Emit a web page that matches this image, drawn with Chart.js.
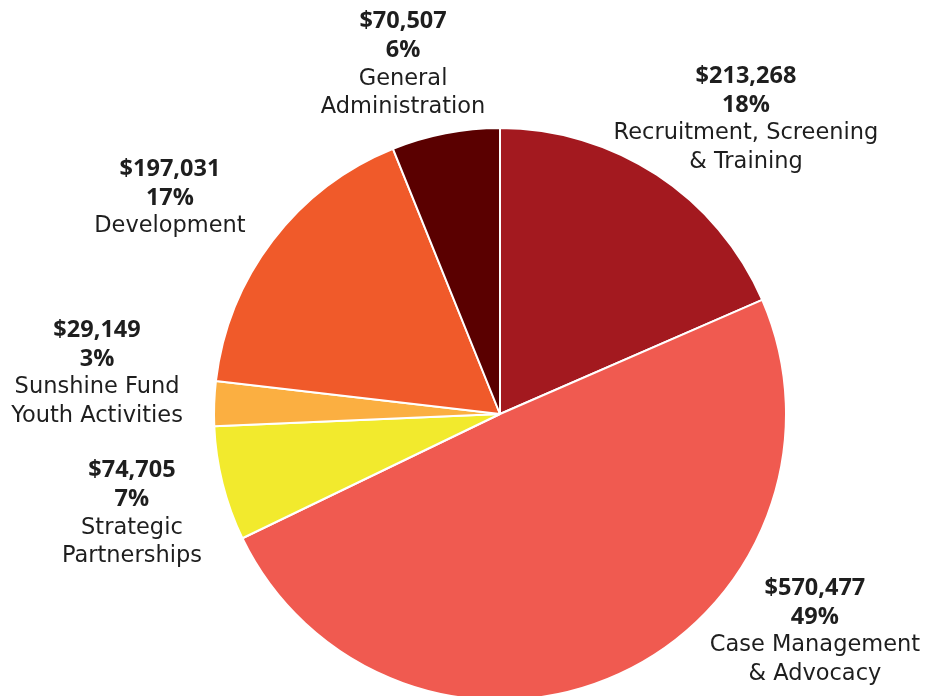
<!DOCTYPE html>
<html>
<head>
<meta charset="utf-8">
<script src="https://cdn.jsdelivr.net/npm/chart.js@4"></script>
<style>
  html, body { margin: 0; padding: 0; background: #fff; overflow: hidden; }
</style>
</head>
<body>
<canvas id="budgetPie" width="930" height="702"></canvas>
<script>
// expense categories, clockwise from the top
const categories = [
    ['Recruitment, Screening', '& Training'],
    ['Case Management', '& Advocacy'],
    ['Strategic', 'Partnerships'],
    ['Sunshine Fund', 'Youth Activities'],
    ['Development'],
    ['General', 'Administration']
];
const amounts = [213268, 570477, 74705, 29149, 197031, 70507];
const percentLabels = ['18%', '49%', '7%', '3%', '17%', '6%'];

const sliceColors = ['#A3191F', '#F05A50', '#F2EA2D', '#FBAF41', '#F05A2A', '#5A0000'];

// where each label block sits, relative to the pie center, in units of radius
const labelSpots = [
    [0.860, -1.031],
    [1.101, 0.760],
    [-1.287, 0.348],
    [-1.409, -0.143],
    [-1.154, -0.755],
    [-0.339, -1.222]
];

const outsideLabels = {
    id: 'outsideLabels',
    afterDatasetsDraw(chart) {
        const ctx = chart.ctx;
        const arcs = chart.getDatasetMeta(0).data;
        const lineH = 28.5;
        ctx.save();
        ctx.textAlign = 'center';
        ctx.textBaseline = 'middle';
        ctx.fillStyle = '#1e1e1e';
        arcs.forEach((arc, i) => {
            const r = arc.outerRadius;
            const cx = arc.x + labelSpots[i][0] * r;
            const cy = arc.y + labelSpots[i][1] * r;
            const lines = [
                { t: '$' + amounts[i].toLocaleString('en-US'), bold: true },
                { t: percentLabels[i], bold: true }
            ].concat(categories[i].map(t => ({ t: t, bold: false })));
            let y = cy - (lines.length - 1) * lineH / 2;
            lines.forEach(l => {
                ctx.font = l.bold ? 'bold 23.5px "Open Sans"' : '22.5px "DejaVu Sans"';
                ctx.fillText(l.t, cx, y);
                y += lineH;
            });
        });
        ctx.restore();
    }
};

const chart = new Chart(document.getElementById('budgetPie').getContext('2d'), {
    type: 'pie',
    data: {
        labels: categories.map(c => c.join(' ')),
        datasets: [{
            data: amounts,
            backgroundColor: sliceColors,
            borderColor: '#ffffff',
            borderWidth: 2,
            hoverOffset: 0
        }]
    },
    options: {
        responsive: false,
        animation: false,
        layout: {
            padding: { left: 213, right: 143, top: 127, bottom: 1 }
        },
        plugins: {
            legend: { display: false },
            tooltip: { enabled: false }
        }
    },
    plugins: [outsideLabels]
});
</script>
</body>
</html>
